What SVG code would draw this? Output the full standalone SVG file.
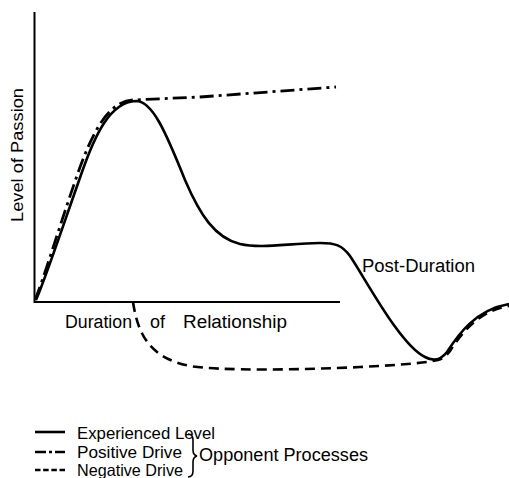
<svg xmlns="http://www.w3.org/2000/svg" width="509" height="478" viewBox="0 0 509 478">
<style>
.t{font-family:"Liberation Sans",Arial,sans-serif;fill:#000}
.c{fill:none;stroke:#000;stroke-linecap:butt;stroke-linejoin:round}
.solid{stroke-width:2.6}
.pos{stroke-width:2.8;stroke-dasharray:14 5 3 5}
.neg{stroke-width:2.6;stroke-dasharray:10 6}
</style>
<rect width="509" height="478" fill="#fff"/>
<g id="axes">
<line x1="34.5" y1="12" x2="34.5" y2="303" stroke="#000" stroke-width="2"/>
<line x1="34" y1="302" x2="340" y2="302" stroke="#000" stroke-width="2"/>
<text class="t" font-size="17" transform="translate(23,155) rotate(-90)" text-anchor="middle" textLength="134" lengthAdjust="spacingAndGlyphs">Level of Passion</text>
<text class="t" font-size="18" x="65" y="328" textLength="67" lengthAdjust="spacingAndGlyphs">Duration</text>
<text class="t" font-size="18" x="150" y="328" textLength="15" lengthAdjust="spacingAndGlyphs">of</text>
<text class="t" font-size="18" x="183" y="328" textLength="104" lengthAdjust="spacingAndGlyphs">Relationship</text>
</g>
<g id="curves">
<path id="experienced" class="c solid" d="M36,300 C45,280 65,220 82,172 C95,135 110,102 136,101 C152,101 165,130 185,180 C200,215 215,238 240,244 C262,249 290,243 320,243 C335,243 342,245 350,256 C365,278 400,345 425,357 C432,361 440,361 447,352 C458,335 475,310 509,304"/>
<path id="positive" class="c pos" d="M35,300 C43,281 62,218 79,170 C92,134 108,101 133,100 L200,97 L336,87"/>
<path id="negative" class="c neg" d="M133,302 C138,335 150,358 190,366 C220,371 300,370 360,367 C400,365 425,363 438,360 C444,358 447,355 450,351 C461,334 478,311 509,306"/>
</g>
<g id="label-post">
<text class="t" font-size="18" x="362" y="272" textLength="113" lengthAdjust="spacingAndGlyphs">Post-Duration</text>
</g>
<g id="legend">
<line x1="35" y1="432" x2="65" y2="432" stroke="#000" stroke-width="2.6"/>
<text class="t" font-size="17" x="77" y="439" textLength="138" lengthAdjust="spacingAndGlyphs">Experienced Level</text>
<line x1="35" y1="452" x2="65" y2="452" stroke="#000" stroke-width="2.6" stroke-dasharray="11 3 3 3"/>
<text class="t" font-size="16.5" x="77" y="458" textLength="105" lengthAdjust="spacingAndGlyphs">Positive Drive</text>
<line x1="35" y1="470" x2="65" y2="470" stroke="#000" stroke-width="2.6" stroke-dasharray="5.5 2.67"/>
<text class="t" font-size="16.5" x="77" y="476" textLength="106" lengthAdjust="spacingAndGlyphs">Negative Drive</text>
<path d="M188,434 Q193,434 193,440 L193,450 Q193,455 197,456 Q193,457 193,462 L193,471 Q193,477 188,477" fill="none" stroke="#000" stroke-width="1.6"/>
<text class="t" font-size="17.5" x="199" y="461" textLength="169" lengthAdjust="spacingAndGlyphs">Opponent Processes</text>
</g>
</svg>
